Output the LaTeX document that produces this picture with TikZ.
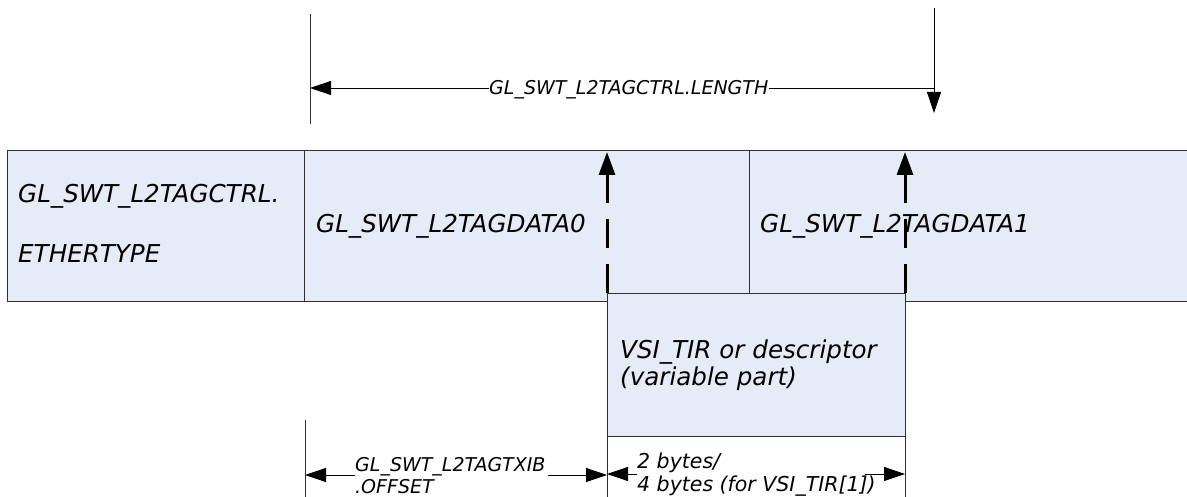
\documentclass[tikz,border=0pt]{standalone}
\usepackage{fontspec}
\setmainfont{DejaVu Sans}
\usetikzlibrary{arrows.meta}
\definecolor{boxfill}{HTML}{E6ECF7}
\definecolor{edge}{HTML}{303030}
\begin{document}
\begin{tikzpicture}[x=1pt,y=-1pt,
  field/.style={draw=edge, fill=boxfill, line width=0.9pt, rectangle, inner sep=0pt, outer sep=0pt, anchor=north west},
  big/.style={font=\fontsize{24.6}{28}\selectfont\itshape, inner sep=0pt, anchor=base west},
  small/.style={font=\fontsize{19}{23}\selectfont\itshape, inner sep=0pt, anchor=base west},
  bytesfont/.style={font=\fontsize{20.5}{24}\selectfont\itshape, inner sep=0pt, anchor=base west},
  thinline/.style={line width=0.8pt, draw=edge},
  dim/.style={line width=0.8pt, draw=black, -{Triangle[length=21pt,width=14pt]}},
  bigarrow/.style={line width=3pt, draw=black, -{Triangle[length=23pt,width=16pt]}, dash pattern=on 29pt off 16pt},
]
\useasboundingbox (0,0) rectangle (1187,497);
\clip (0,0) rectangle (1187,497);

% band fields
\node[field, minimum width=297pt, minimum height=151pt] (eth) at (7,150) {};
\node[field, minimum width=445pt, minimum height=151pt] (data0) at (304,150) {};
\node[field, minimum width=445pt, minimum height=151pt] (data1) at (749,150) {};

\node[big] (ethA) at (18,203) {GL\_SWT\_L2TAGCTRL.};
\node[big] (ethB) at (18,263) {ETHERTYPE};
\node[big] (d0) at (316,233) {GL\_SWT\_L2TAGDATA0};
\node[big] (d1) at (760,233) {GL\_SWT\_L2TAGDATA1};

% VSI box
\node[field, minimum width=298pt, minimum height=143pt] (vsi) at (607,293) {};
\node[big] (vsiA) at (620,358) {VSI\_TIR or descriptor};
\node[big] (vsiB) at (620,385) {(variable part)};

% dashed upward arrows
\coordinate (upL) at (607,152);
\coordinate (upR) at (905,152);
\draw[bigarrow] (vsi.north west) -- (upL);
\draw[bigarrow] (vsi.north east) -- (upR);

% top dimension
\coordinate (lenLtop) at (310,14);
\coordinate (lenLbot) at (310,124);
\coordinate (lenL) at (310,88);
\coordinate (lenRtop) at (934,8);
\coordinate (lenRtip) at (934,113);
\coordinate (lenR) at (934,88);
\draw[thinline] (lenLtop) -- (lenLbot);
\draw[dim] (lenRtop) -- (lenRtip);
\node[small] (lenlbl) at (489,95) {GL\_SWT\_L2TAGCTRL.LENGTH};
\draw[dim] (lenlbl.west |- lenL) -- (lenL);
\draw[line width=0.8pt] (lenlbl.east |- lenR) -- (lenR);

% bottom offset dimension
\coordinate (offTop) at (305,420);
\coordinate (offBot) at (305,500);
\coordinate (offY) at (305,475);
\draw[thinline] (offTop) -- (offBot);
\node[small] (off1) at (355,471) {GL\_SWT\_L2TAGTXIB};
\node[small] (off2) at (355,493) {.OFFSET};
\draw[dim] (off1.west |- offY) -- (offY);
\draw[dim] ([xshift=2pt]off1.east |- offY) -- (vsi.south west |- offY);

% extension lines below VSI box
\draw[thinline] (vsi.south west) -- ++(0,70);
\draw[thinline] (vsi.south east) -- ++(0,70);

% bytes dimension
\coordinate (bY) at (607,474);
\coordinate (bR) at (865,474);
\node[bytesfont] (b1) at (637,468) {2 bytes/};
\node[bytesfont] (b2) at (637,491) {4 bytes (for VSI\_TIR[1])};
\draw[dim] (b1.west |- bY) -- (vsi.south west |- bY);
\draw[dim] (bR) -- (vsi.south east |- bY);
\end{tikzpicture}
\end{document}
